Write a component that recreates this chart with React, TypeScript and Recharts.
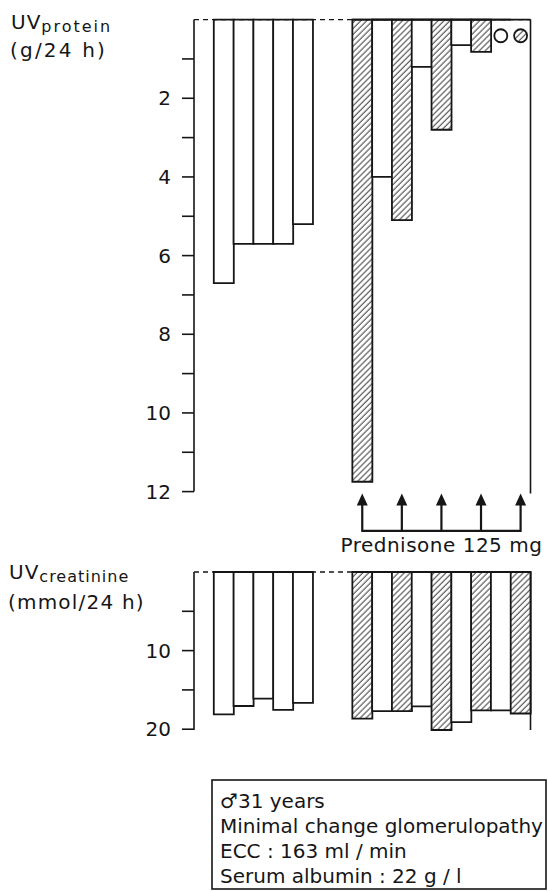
import React from 'react';
import { ComposedChart, Bar, Cell, XAxis, YAxis, ReferenceLine, ReferenceDot } from 'recharts';

// ---- data ----
const slots = ['s0', 'a1', 'a2', 'a3', 'a4', 'a5', 'g1', 'g2', 'b1', 'b2', 'b3', 'b4', 'b5', 'b6', 'b7', 'b8', 'b9'];
const barKinds = ['none', 'open', 'open', 'open', 'open', 'open', 'none', 'none', 'hatched', 'open', 'hatched', 'open', 'hatched', 'open', 'hatched', 'open', 'hatched'];
const proteinValues = [null, 6.7, 5.7, 5.7, 5.7, 5.2, null, null, 11.75, 4.0, 5.1, 1.2, 2.8, 0.65, 0.82, null, null];
const creatinineValues = [null, 18.1, 17.05, 16.1, 17.55, 16.65, null, null, 18.65, 17.7, 17.7, 17.1, 20.1, 19.1, 17.6, 17.6, 18.0];
const proteinTicks = [1, 2, 3, 4, 5, 6, 7, 8, 9, 10, 11, 12];
const proteinTickLabels = [2, 4, 6, 8, 10, 12];
const creatinineTicks = [5, 10, 15, 20];
const creatinineTickLabels = [10, 20];
const markerSlots = ['b8', 'b9'];
const markerKinds = ['open', 'hatched'];
const markerValues = [0.41, 0.41];
const doseSlots = ['b1', 'b3', 'b5', 'b7', 'b9'];
const doseLabel = 'Prednisone 125 mg';
const patientInfo = ['\u264231 years', 'Minimal change glomerulopathy', 'ECC : 163 ml / min', 'Serum albumin : 22 g / l'];

const proteinData = slots.map((s, i) => ({ slot: s, value: proteinValues[i], kind: barKinds[i] }));
const creatinineData = slots.map((s, i) => ({ slot: s, value: creatinineValues[i], kind: barKinds[i] }));

const FONT = 'DejaVu Sans';
const INK = '#161616';

const Hatch = ({ id }: { id: string }) => (
  <defs>
    <pattern id={id} patternUnits="userSpaceOnUse" width={4.2} height={4.2} patternTransform="rotate(45)">
      <rect width={4.2} height={4.2} fill="#fff" />
      <line x1={1} y1={0} x2={1} y2={4.2} stroke="#3a3a3a" strokeWidth={1} />
    </pattern>
  </defs>
);

const ArrowShape = (p: any) => {
  const { x1, y1, y2 } = p;
  const top = Math.min(y1, y2);
  const bottom = Math.max(y1, y2);
  return (
    <g>
      <line x1={x1} x2={x1} y1={top + 8} y2={bottom + 1} stroke={INK} strokeWidth={2.2} />
      <polygon points={`${x1},${top} ${x1 - 5.5},${top + 12} ${x1 + 5.5},${top + 12}`} fill={INK} />
    </g>
  );
};

const tickStyle = { fontSize: 20, fill: INK, fontFamily: FONT };

export default function App() {
  return (
    <div style={{ position: 'absolute', left: 0, top: 0, width: 548, height: 892, background: '#fff' }}>
      <div style={{ position: 'absolute', left: 0, top: 0 }}>
        <ComposedChart width={548} height={560} data={proteinData}
          margin={{ top: 19.6, right: 17.5, bottom: 68.4, left: 0 }} barCategoryGap={0} barGap={0}>
          <Hatch id="hatchTop" />
          <XAxis dataKey="slot" type="category" hide />
          <YAxis type="number" domain={[0, 12]} reversed ticks={proteinTicks} interval={0} width={194}
            axisLine={{ stroke: INK, strokeWidth: 1.6 }} tickLine={{ stroke: INK, strokeWidth: 1.6 }}
            tickSize={12} tickMargin={11} tick={tickStyle}
            tickFormatter={(v: number) => (proteinTickLabels.includes(v) ? String(v) : '')} />
          <ReferenceLine y={0} stroke={INK} strokeWidth={1.4} strokeDasharray="5 4" />
          <ReferenceLine segment={[{ x: 'b1', y: 0 }, { x: 'b9', y: 0 }]} position="start" stroke={INK} strokeWidth={1.8} />
          <ReferenceLine segment={[{ x: 'b1', y: 0 }, { x: 'b9', y: 0 }]} position="end" stroke={INK} strokeWidth={1.8} />
          <ReferenceLine segment={[{ x: 'b9', y: 0 }, { x: 'b9', y: 12.05 }]} position="end" stroke={INK} strokeWidth={1.6} ifOverflow="visible" />
          <Bar dataKey="value" isAnimationActive={false} stroke={INK} strokeWidth={1.8}>
            {proteinData.map((d, i) => (
              <Cell key={i} fill={d.kind === 'hatched' ? 'url(#hatchTop)' : '#fff'} />
            ))}
          </Bar>
          {markerSlots.map((s, i) => (
            <ReferenceDot key={s} x={s} y={markerValues[i]} r={6.5}
              fill={markerKinds[i] === 'hatched' ? 'url(#hatchTop)' : '#fff'} stroke={INK} strokeWidth={1.8} />
          ))}
          {doseSlots.map((s) => (
            <ReferenceLine key={s} segment={[{ x: s, y: 12.05 }, { x: s, y: 13 }]} ifOverflow="visible" shape={ArrowShape} />
          ))}
          <ReferenceLine segment={[{ x: doseSlots[0], y: 13 }, { x: doseSlots[doseSlots.length - 1], y: 13 }]}
            ifOverflow="visible" stroke={INK} strokeWidth={2.2}
            label={{ value: doseLabel, position: 'bottom', offset: 7, fontSize: 20, fill: INK, fontFamily: FONT, letterSpacing: 0.5 }} />
        </ComposedChart>
      </div>
      <div style={{ position: 'absolute', left: 0, top: 560 }}>
        <ComposedChart width={548} height={180} data={creatinineData}
          margin={{ top: 12, right: 17.5, bottom: 10, left: 0 }} barCategoryGap={0} barGap={0}>
          <Hatch id="hatchBottom" />
          <XAxis dataKey="slot" type="category" hide />
          <YAxis type="number" domain={[0, 20]} reversed ticks={creatinineTicks} interval={0} width={194}
            axisLine={{ stroke: INK, strokeWidth: 1.6 }} tickLine={{ stroke: INK, strokeWidth: 1.6 }}
            tickSize={12} tickMargin={11} tick={tickStyle}
            tickFormatter={(v: number) => (creatinineTickLabels.includes(v) ? String(v) : '')} />
          <ReferenceLine y={0} stroke={INK} strokeWidth={1.4} strokeDasharray="5 4" />
          <ReferenceLine segment={[{ x: 'b9', y: 0 }, { x: 'b9', y: 20.1 }]} position="end" stroke={INK} strokeWidth={1.6} ifOverflow="visible" />
          <Bar dataKey="value" isAnimationActive={false} stroke={INK} strokeWidth={1.8}>
            {creatinineData.map((d, i) => (
              <Cell key={i} fill={d.kind === 'hatched' ? 'url(#hatchBottom)' : '#fff'} />
            ))}
          </Bar>
        </ComposedChart>
      </div>
      <svg width={548} height={892} style={{ position: 'absolute', left: 0, top: 0, pointerEvents: 'none' }}>
        <g fontFamily={FONT} fill={INK}>
          <text x={11} y={29} fontSize={20} letterSpacing={1}>UV<tspan fontSize={16} dy={3} letterSpacing={2}>protein</tspan></text>
          <text x={10} y={57} fontSize={20} letterSpacing={2.2}>(g/24 h)</text>
          <text x={9} y={579} fontSize={20} letterSpacing={1}>UV<tspan fontSize={16} dy={3} letterSpacing={1}>creatinine</tspan></text>
          <text x={8} y={609} fontSize={20} letterSpacing={1.2}>(mmol/24 h)</text>
          <rect x={212} y={780} width={334} height={109} fill="none" stroke={INK} strokeWidth={1.6} />
          {patientInfo.map((t, i) => (
            <text key={i} x={220} y={808 + i * 25} fontSize={20}>{t}</text>
          ))}
        </g>
      </svg>
    </div>
  );
}
